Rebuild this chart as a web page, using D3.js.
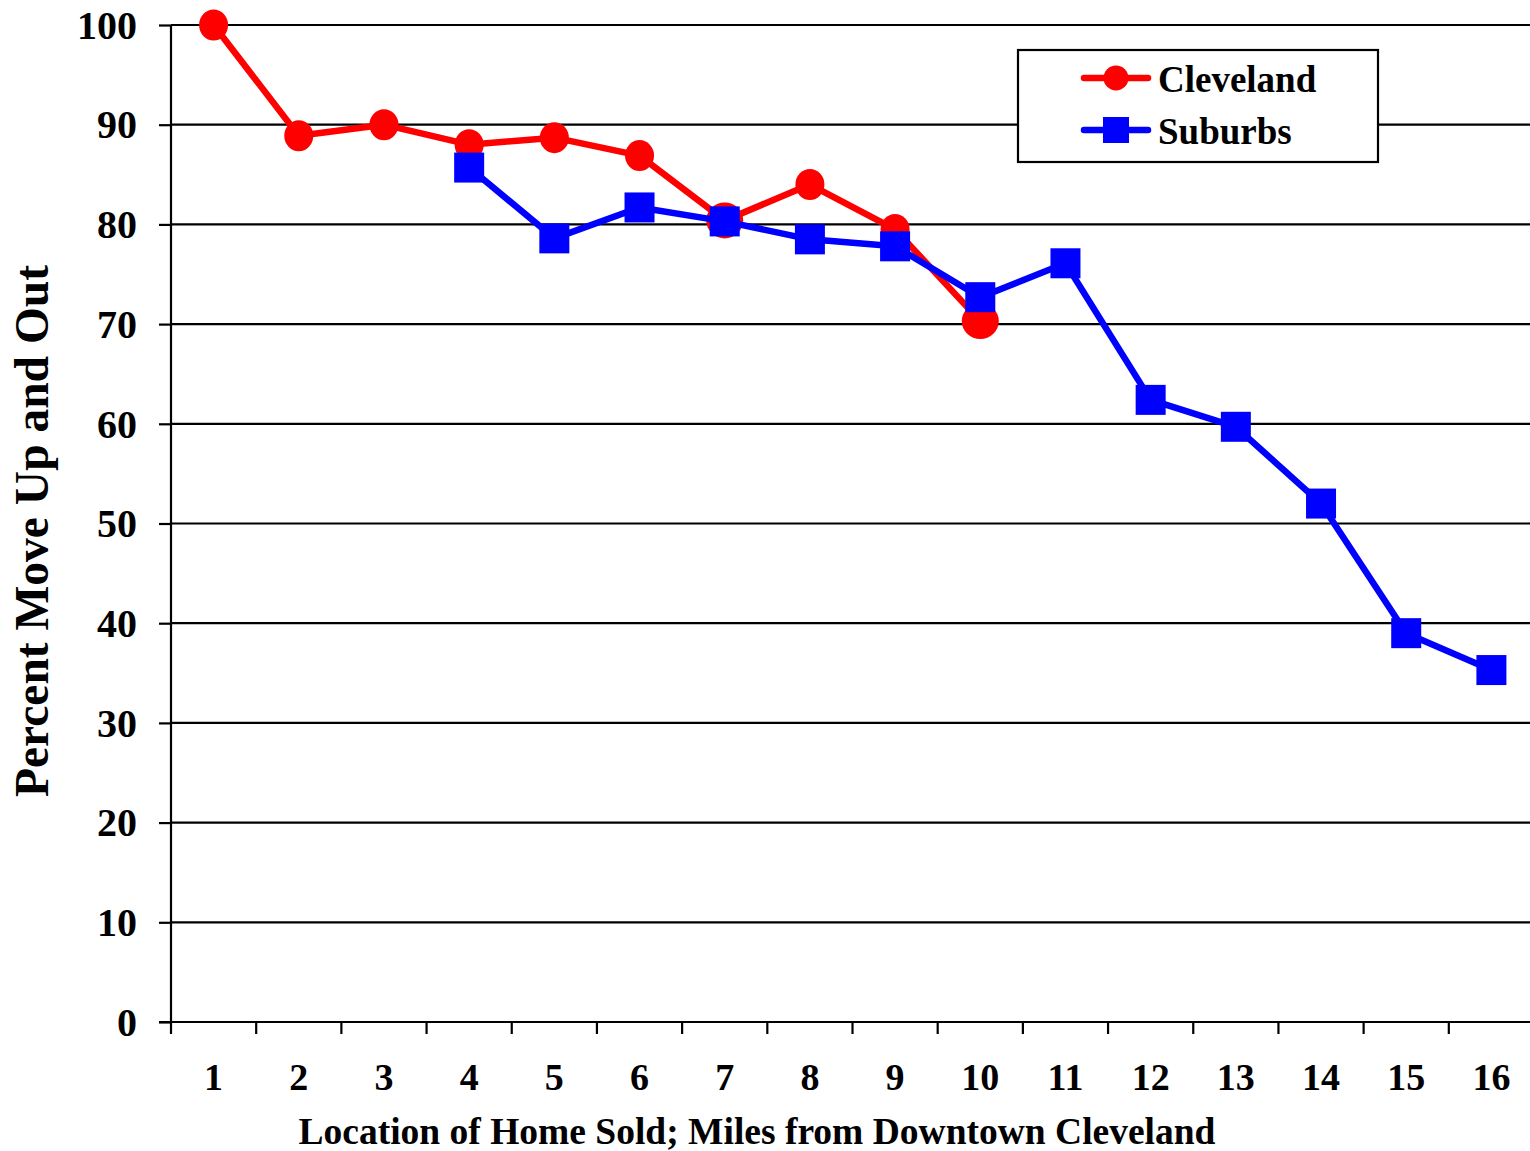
<!DOCTYPE html>
<html>
<head>
<meta charset="utf-8">
<script src="https://cdn.jsdelivr.net/npm/d3@7"></script>
<style>
  html, body { margin: 0; padding: 0; background: #fff; }
  svg { display: block; }
  text { font-family: "Liberation Serif", "Times New Roman", serif; font-weight: bold; fill: #000; }
</style>
</head>
<body>
<svg id="chart" width="1530" height="1151"></svg>
<script>
// Miles from downtown (category labels on the x axis)
const miles = ["1","2","3","4","5","6","7","8","9","10","11","12","13","14","15","16"];

// Percent of sellers who move up and out, by location of the home sold
const clevelandMiles = ["1","2","3","4","5","6","7","8","9","10"];
const clevelandValues = [100, 88.9, 90.0, 88.0, 88.7, 86.9, 80.4, 84.0, 79.5, 70.3];

const suburbsMiles = ["4","5","6","7","8","9","10","11","12","13","14","15","16"];
const suburbsValues = [85.7, 78.6, 81.7, 80.3, 78.5, 77.8, 72.7, 76.1, 62.4, 59.7, 52.0, 39.0, 35.3];

const yTicks = [0, 10, 20, 30, 40, 50, 60, 70, 80, 90, 100];

const seriesNames = ["Cleveland", "Suburbs"];

const svg = d3.select("#chart");

const plotLeft = 171, plotRight = 1534, plotTop = 25, plotBottom = 1022;

const x = d3.scaleBand().domain(miles).range([plotLeft, plotRight]).padding(0);
const y = d3.scaleLinear().domain([0, 100]).range([plotBottom, plotTop]);
const cx = m => x(m) + x.bandwidth() / 2;

// Horizontal gridlines
svg.append("g")
  .selectAll("line")
  .data(yTicks.filter(t => t > 0))
  .join("line")
  .attr("x1", plotLeft).attr("x2", plotRight)
  .attr("y1", d => y(d)).attr("y2", d => y(d))
  .attr("stroke", "#000").attr("stroke-width", 2.2);

// Y axis
const yAxis = svg.append("g")
  .attr("transform", `translate(${plotLeft},0)`)
  .call(d3.axisLeft(y).tickValues(yTicks).tickSize(12).tickPadding(22));
yAxis.select(".domain").attr("stroke", "#000").attr("stroke-width", 2.2).attr("d", `M0,${plotBottom}V${plotTop}`);
yAxis.selectAll(".tick line").attr("stroke", "#000").attr("stroke-width", 2.2);
yAxis.selectAll(".tick text")
  .attr("font-size", 40).attr("font-family", "Liberation Serif").attr("font-weight", "bold")
  .attr("dy", "0.33em").attr("fill", "#000");

// X axis: labels centred in each band, ticks on band boundaries
const xAxis = svg.append("g")
  .attr("transform", `translate(0,${plotBottom})`)
  .call(d3.axisBottom(x).tickSize(0).tickPadding(68));
xAxis.select(".domain").attr("stroke", "#000").attr("stroke-width", 2.2).attr("d", `M${plotLeft - 12},0H${plotRight}`);
xAxis.selectAll(".tick text")
  .attr("font-size", 38).attr("font-family", "Liberation Serif").attr("font-weight", "bold")
  .attr("dy", "0").attr("fill", "#000");
xAxis.append("g")
  .selectAll("line")
  .data(miles)
  .join("line")
  .attr("x1", d => x(d)).attr("x2", d => x(d))
  .attr("y1", 0).attr("y2", 12)
  .attr("stroke", "#000").attr("stroke-width", 2.2);

// Axis titles
svg.append("text")
  .attr("x", 757).attr("y", 1144)
  .attr("text-anchor", "middle")
  .attr("font-size", 37.5)
  .text("Location of Home Sold; Miles from Downtown Cleveland");

svg.append("text")
  .attr("transform", "translate(48,531) rotate(-90)")
  .attr("text-anchor", "middle")
  .attr("font-size", 47.5)
  .text("Percent Move Up and Out");

const line = d3.line().x(d => cx(d.m)).y(d => y(d.v));

const cleveland = clevelandMiles.map((m, i) => ({ m, v: clevelandValues[i] }));
const suburbs = suburbsMiles.map((m, i) => ({ m, v: suburbsValues[i] }));

const red = "#ff0000", blue = "#0000ff";
// A couple of Cleveland markers are drawn slightly larger where they sit under suburb markers
const largeMarkers = new Set(["7", "10"]);

// Cleveland series
svg.append("path")
  .datum(cleveland)
  .attr("d", line)
  .attr("fill", "none").attr("stroke", red).attr("stroke-width", 6.5)
  .attr("stroke-linejoin", "round");
svg.append("g")
  .selectAll("ellipse")
  .data(cleveland)
  .join("ellipse")
  .attr("cx", d => cx(d.m)).attr("cy", d => y(d.v))
  .attr("rx", d => largeMarkers.has(d.m) ? 18.5 : 14.5)
  .attr("ry", d => largeMarkers.has(d.m) ? 18 : 15.5)
  .attr("fill", red);

// Suburbs series
svg.append("path")
  .datum(suburbs)
  .attr("d", line)
  .attr("fill", "none").attr("stroke", blue).attr("stroke-width", 6.5)
  .attr("stroke-linejoin", "round");
const sq = 30;
svg.append("g")
  .selectAll("rect")
  .data(suburbs)
  .join("rect")
  .attr("x", d => cx(d.m) - sq / 2).attr("y", d => y(d.v) - sq / 2)
  .attr("width", sq).attr("height", sq)
  .attr("fill", blue);

// Legend
const legend = svg.append("g");
legend.append("rect")
  .attr("x", 1018).attr("y", 50).attr("width", 360).attr("height", 112)
  .attr("fill", "#fff").attr("stroke", "#000").attr("stroke-width", 2.2);

const legendRows = [
  { name: seriesNames[0], color: red, shape: "circle", yy: 78 },
  { name: seriesNames[1], color: blue, shape: "square", yy: 130 }
];
legendRows.forEach(r => {
  legend.append("line")
    .attr("x1", 1084).attr("x2", 1148).attr("y1", r.yy).attr("y2", r.yy)
    .attr("stroke", r.color).attr("stroke-width", 6.5).attr("stroke-linecap", "round");
  if (r.shape === "circle") {
    legend.append("circle").attr("cx", 1116).attr("cy", r.yy).attr("r", 12.5).attr("fill", r.color);
  } else {
    legend.append("rect").attr("x", 1103).attr("y", r.yy - 13).attr("width", 26).attr("height", 26).attr("fill", r.color);
  }
  legend.append("text")
    .attr("x", 1158).attr("y", r.yy + 14)
    .attr("font-size", 37)
    .text(r.name);
});
</script>
</body>
</html>
